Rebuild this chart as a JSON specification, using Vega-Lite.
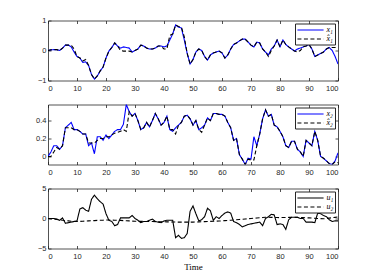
{
"$schema":"https://vega.github.io/schema/vega-lite/v6.json",
"background":"white",
"padding":{"left":18,"top":16.5,"right":4,"bottom":4},
"spacing":24,
"bounds":"flush",
"datasets":{
"p1":[
{"t":0,"a":0,"b":0},{"t":1,"a":0.02,"b":0.02},{"t":2,"a":0.03,"b":0.03},{"t":3,"a":0.03,"b":0.03},{"t":4,"a":0.0,"b":0.0},{"t":5,"a":0.08,"b":0.08},{"t":6,"a":0.18,"b":0.18},{"t":7,"a":0.18,"b":0.18},{"t":8,"a":0.12,"b":0.18},{"t":9,"a":-0.05,"b":0.05},
{"t":10,"a":-0.2,"b":-0.2},{"t":11,"a":-0.25,"b":-0.25},{"t":12,"a":-0.4,"b":-0.35},{"t":13,"a":-0.38,"b":-0.3},{"t":14,"a":-0.5,"b":-0.5},{"t":15,"a":-0.8,"b":-0.8},{"t":16,"a":-0.95,"b":-0.95},{"t":17,"a":-0.85,"b":-0.85},{"t":18,"a":-0.68,"b":-0.68},{"t":19,"a":-0.55,"b":-0.55},
{"t":20,"a":-0.25,"b":-0.25},{"t":21,"a":-0.02,"b":-0.02},{"t":22,"a":0.1,"b":0.1},{"t":23,"a":0.25,"b":0.25},{"t":24,"a":0.15,"b":0.15},{"t":25,"a":0.08,"b":0.0},{"t":26,"a":0.12,"b":-0.02},{"t":27,"a":0.1,"b":-0.02},{"t":28,"a":0.08,"b":-0.02},{"t":29,"a":-0.05,"b":-0.05},
{"t":30,"a":0.0,"b":0.0},{"t":31,"a":0.05,"b":0.05},{"t":32,"a":0.18,"b":0.18},{"t":33,"a":0.15,"b":0.15},{"t":34,"a":0.08,"b":0.08},{"t":35,"a":0.05,"b":0.05},{"t":36,"a":0.05,"b":0.05},{"t":37,"a":0.08,"b":0.08},{"t":38,"a":0.15,"b":0.15},{"t":39,"a":0.15,"b":0.15},
{"t":40,"a":0.12,"b":0.05},{"t":41,"a":0.15,"b":0.05},{"t":42,"a":0.35,"b":0.5},{"t":43,"a":0.55,"b":0.55},{"t":44,"a":0.85,"b":0.85},{"t":45,"a":0.78,"b":0.8},{"t":46,"a":0.75,"b":0.78},{"t":47,"a":0.35,"b":0.45},{"t":48,"a":-0.1,"b":-0.1},{"t":49,"a":-0.45,"b":-0.45},
{"t":50,"a":-0.3,"b":-0.3},{"t":51,"a":-0.05,"b":-0.05},{"t":52,"a":0.05,"b":0.05},{"t":53,"a":0.0,"b":0.0},{"t":54,"a":-0.2,"b":-0.2},{"t":55,"a":-0.32,"b":-0.32},{"t":56,"a":-0.15,"b":-0.15},{"t":57,"a":-0.08,"b":-0.08},{"t":58,"a":-0.05,"b":-0.05},{"t":59,"a":-0.02,"b":-0.02},
{"t":60,"a":-0.08,"b":-0.08},{"t":61,"a":-0.25,"b":-0.25},{"t":62,"a":-0.15,"b":-0.15},{"t":63,"a":0.05,"b":0.05},{"t":64,"a":0.2,"b":0.2},{"t":65,"a":0.25,"b":0.25},{"t":66,"a":0.32,"b":0.32},{"t":67,"a":0.38,"b":0.38},{"t":68,"a":0.38,"b":0.38},{"t":69,"a":0.28,"b":0.28},
{"t":70,"a":0.18,"b":0.18},{"t":71,"a":0.12,"b":0.12},{"t":72,"a":0.28,"b":0.28},{"t":73,"a":0.25,"b":0.25},{"t":74,"a":0.05,"b":0.05},{"t":75,"a":-0.05,"b":-0.05},{"t":76,"a":-0.15,"b":-0.2},{"t":77,"a":0.05,"b":0.0},{"t":78,"a":0.15,"b":0.15},{"t":79,"a":0.35,"b":0.35},
{"t":80,"a":0.12,"b":0.12},{"t":81,"a":0.35,"b":0.35},{"t":82,"a":0.2,"b":0.2},{"t":83,"a":0.12,"b":0.12},{"t":84,"a":0.05,"b":0.05},{"t":85,"a":-0.02,"b":-0.02},{"t":86,"a":0.05,"b":-0.05},{"t":87,"a":0.08,"b":0.0},{"t":88,"a":0.12,"b":0.12},{"t":89,"a":0.15,"b":0.15},
{"t":90,"a":0.2,"b":0.2},{"t":91,"a":0.05,"b":0.05},{"t":92,"a":-0.2,"b":-0.2},{"t":93,"a":-0.15,"b":-0.15},{"t":94,"a":-0.1,"b":-0.1},{"t":95,"a":-0.05,"b":-0.05},{"t":96,"a":0.05,"b":0.05},{"t":97,"a":0.1,"b":0.1},{"t":98,"a":0.0,"b":0.1},{"t":99,"a":-0.2,"b":0.1},
{"t":100,"a":-0.45,"b":0.1}
],
"p2":[
{"t":0,"a":0.0,"b":0.0},{"t":1,"a":0.05,"b":0.0},{"t":2,"a":0.12,"b":0.05},{"t":3,"a":0.12,"b":0.1},{"t":4,"a":0.08,"b":0.08},{"t":5,"a":0.12,"b":0.12},{"t":6,"a":0.32,"b":0.32},{"t":7,"a":0.35,"b":0.32},{"t":8,"a":0.38,"b":0.32},{"t":9,"a":0.3,"b":0.3},
{"t":10,"a":0.3,"b":0.3},{"t":11,"a":0.28,"b":0.28},{"t":12,"a":0.25,"b":0.25},{"t":13,"a":0.25,"b":0.25},{"t":14,"a":0.12,"b":0.15},{"t":15,"a":0.15,"b":0.15},{"t":16,"a":0.03,"b":0.15},{"t":17,"a":0.22,"b":0.18},{"t":18,"a":0.22,"b":0.2},{"t":19,"a":0.18,"b":0.2},
{"t":20,"a":0.24,"b":0.22},{"t":21,"a":0.2,"b":0.22},{"t":22,"a":0.24,"b":0.24},{"t":23,"a":0.28,"b":0.26},{"t":24,"a":0.3,"b":0.27},{"t":25,"a":0.3,"b":0.28},{"t":26,"a":0.36,"b":0.3},{"t":27,"a":0.58,"b":0.28},{"t":28,"a":0.5,"b":0.5},{"t":29,"a":0.45,"b":0.45},
{"t":30,"a":0.48,"b":0.48},{"t":31,"a":0.4,"b":0.4},{"t":32,"a":0.3,"b":0.3},{"t":33,"a":0.32,"b":0.32},{"t":34,"a":0.38,"b":0.38},{"t":35,"a":0.33,"b":0.33},{"t":36,"a":0.4,"b":0.4},{"t":37,"a":0.48,"b":0.48},{"t":38,"a":0.42,"b":0.42},{"t":39,"a":0.35,"b":0.35},
{"t":40,"a":0.38,"b":0.38},{"t":41,"a":0.45,"b":0.45},{"t":42,"a":0.3,"b":0.3},{"t":43,"a":0.28,"b":0.3},{"t":44,"a":0.32,"b":0.25},{"t":45,"a":0.35,"b":0.35},{"t":46,"a":0.38,"b":0.38},{"t":47,"a":0.45,"b":0.45},{"t":48,"a":0.46,"b":0.46},{"t":49,"a":0.42,"b":0.42},
{"t":50,"a":0.35,"b":0.35},{"t":51,"a":0.4,"b":0.4},{"t":52,"a":0.3,"b":0.3},{"t":53,"a":0.32,"b":0.27},{"t":54,"a":0.35,"b":0.35},{"t":55,"a":0.43,"b":0.43},{"t":56,"a":0.4,"b":0.4},{"t":57,"a":0.48,"b":0.48},{"t":58,"a":0.48,"b":0.48},{"t":59,"a":0.47,"b":0.47},
{"t":60,"a":0.47,"b":0.47},{"t":61,"a":0.45,"b":0.45},{"t":62,"a":0.38,"b":0.38},{"t":63,"a":0.32,"b":0.32},{"t":64,"a":0.18,"b":0.18},{"t":65,"a":0.2,"b":0.2},{"t":66,"a":0.02,"b":0.02},{"t":67,"a":-0.03,"b":-0.03},{"t":68,"a":-0.09,"b":-0.09},{"t":69,"a":-0.02,"b":-0.03},
{"t":70,"a":-0.03,"b":-0.04},{"t":71,"a":0.22,"b":-0.04},{"t":72,"a":0.12,"b":0.12},{"t":73,"a":0.25,"b":0.25},{"t":74,"a":0.42,"b":0.42},{"t":75,"a":0.52,"b":0.52},{"t":76,"a":0.45,"b":0.45},{"t":77,"a":0.47,"b":0.47},{"t":78,"a":0.35,"b":0.35},{"t":79,"a":0.33,"b":0.33},
{"t":80,"a":0.28,"b":0.28},{"t":81,"a":0.22,"b":0.22},{"t":82,"a":0.12,"b":0.12},{"t":83,"a":0.1,"b":0.1},{"t":84,"a":0.17,"b":0.17},{"t":85,"a":0.17,"b":0.17},{"t":86,"a":0.08,"b":0.08},{"t":87,"a":0.05,"b":0.05},{"t":88,"a":0.0,"b":0.0},{"t":89,"a":0.18,"b":0.18},
{"t":90,"a":0.15,"b":0.15},{"t":91,"a":0.12,"b":0.12},{"t":92,"a":0.28,"b":0.28},{"t":93,"a":0.18,"b":0.18},{"t":94,"a":0.0,"b":0.0},{"t":95,"a":-0.02,"b":-0.02},{"t":96,"a":-0.05,"b":-0.05},{"t":97,"a":-0.08,"b":-0.08},{"t":98,"a":-0.09,"b":-0.09},{"t":99,"a":-0.05,"b":-0.06},
{"t":100,"a":0.04,"b":-0.07}
],
"p3":[
{"t":0,"a":0,"b":0},{"t":1,"a":0,"b":-0.05},{"t":2,"a":0,"b":-0.1},{"t":3,"a":-0.1,"b":-0.15},{"t":4,"a":-0.3,"b":-0.2},{"t":5,"a":0.1,"b":-0.3},{"t":6,"a":-0.8,"b":-0.35},{"t":7,"a":-0.7,"b":-0.4},{"t":8,"a":-0.6,"b":-0.45},{"t":9,"a":-0.5,"b":-0.48},
{"t":10,"a":-0.4,"b":-0.5},{"t":11,"a":1.6,"b":-0.48},{"t":12,"a":1.8,"b":-0.45},{"t":13,"a":1.4,"b":-0.42},{"t":14,"a":1.2,"b":-0.4},{"t":15,"a":3.2,"b":-0.38},{"t":16,"a":3.9,"b":-0.35},{"t":17,"a":3.3,"b":-0.32},{"t":18,"a":2.8,"b":-0.3},{"t":19,"a":2.4,"b":-0.28},
{"t":20,"a":0.8,"b":-0.25},{"t":21,"a":-0.3,"b":-0.25},{"t":22,"a":-0.5,"b":-0.27},{"t":23,"a":-1.2,"b":-0.28},{"t":24,"a":-1.0,"b":-0.3},{"t":25,"a":0.1,"b":-0.32},{"t":26,"a":0.1,"b":-0.35},{"t":27,"a":0.1,"b":-0.38},{"t":28,"a":0.1,"b":-0.4},{"t":29,"a":0.5,"b":-0.43},
{"t":30,"a":0.0,"b":-0.45},{"t":31,"a":-0.3,"b":-0.47},{"t":32,"a":-0.7,"b":-0.48},{"t":33,"a":-0.5,"b":-0.49},{"t":34,"a":-0.5,"b":-0.5},{"t":35,"a":-0.3,"b":-0.5},{"t":36,"a":-0.1,"b":-0.51},{"t":37,"a":-0.5,"b":-0.52},{"t":38,"a":-0.6,"b":-0.53},{"t":39,"a":-0.7,"b":-0.54},
{"t":40,"a":-0.4,"b":-0.55},{"t":41,"a":-0.3,"b":-0.56},{"t":42,"a":-0.3,"b":-0.57},{"t":43,"a":-0.3,"b":-0.58},{"t":44,"a":-3.2,"b":-0.59},{"t":45,"a":-2.8,"b":-0.6},{"t":46,"a":-3.3,"b":-0.6},{"t":47,"a":-3.2,"b":-0.6},{"t":48,"a":-2.5,"b":-0.6},{"t":49,"a":1.2,"b":-0.6},
{"t":50,"a":2.1,"b":-0.6},{"t":51,"a":0.8,"b":-0.58},{"t":52,"a":-0.4,"b":-0.56},{"t":53,"a":-0.2,"b":-0.54},{"t":54,"a":0.3,"b":-0.52},{"t":55,"a":1.7,"b":-0.5},{"t":56,"a":1.3,"b":-0.48},{"t":57,"a":-0.3,"b":-0.46},{"t":58,"a":0.3,"b":-0.44},{"t":59,"a":0.0,"b":-0.42},
{"t":60,"a":0.5,"b":-0.4},{"t":61,"a":0.9,"b":-0.36},{"t":62,"a":1.1,"b":-0.32},{"t":63,"a":0.9,"b":-0.28},{"t":64,"a":-0.5,"b":-0.24},{"t":65,"a":-0.7,"b":-0.2},{"t":66,"a":-1.0,"b":-0.16},{"t":67,"a":-1.4,"b":-0.12},{"t":68,"a":-1.2,"b":-0.08},{"t":69,"a":-1.0,"b":-0.04},
{"t":70,"a":-0.9,"b":0.0},{"t":71,"a":-0.8,"b":0.04},{"t":72,"a":-0.7,"b":0.08},{"t":73,"a":-0.6,"b":0.12},{"t":74,"a":-1.2,"b":0.16},{"t":75,"a":0.0,"b":0.2},{"t":76,"a":0.3,"b":0.2},{"t":77,"a":0.7,"b":0.19},{"t":78,"a":0.6,"b":0.18},{"t":79,"a":-1.0,"b":0.16},
{"t":80,"a":-0.9,"b":0.15},{"t":81,"a":-1.0,"b":0.16},{"t":82,"a":-1.8,"b":0.17},{"t":83,"a":-0.2,"b":0.18},{"t":84,"a":0.2,"b":0.19},{"t":85,"a":0.2,"b":0.2},{"t":86,"a":0.2,"b":0.18},{"t":87,"a":0.0,"b":0.16},{"t":88,"a":0.0,"b":0.14},{"t":89,"a":-0.6,"b":0.12},
{"t":90,"a":-0.6,"b":0.1},{"t":91,"a":-0.6,"b":0.07},{"t":92,"a":-0.7,"b":0.04},{"t":93,"a":0.9,"b":0.01},{"t":94,"a":0.8,"b":-0.02},{"t":95,"a":0.5,"b":-0.05},{"t":96,"a":0.3,"b":0.01},{"t":97,"a":-0.2,"b":0.07},{"t":98,"a":-0.5,"b":0.13},{"t":99,"a":-0.4,"b":0.19},
{"t":100,"a":-0.4,"b":0.25}
]
},
"vconcat":[
{
"width":290,"height":60,
"data":{"name":"p1"},
"layer":[
{"transform":[{"fold":["a","b"],"as":["key","v"]}],
"mark":{"type":"line","strokeWidth":1.1,"clip":true},
"encoding":{
"x":{"field":"t","type":"quantitative","scale":{"domain":[0,100],"nice":false,"zero":false},"axis":{"orient":"bottom","values":[0,10,20,30,40,50,60,70,80,90,100],"title":null,"minExtent":12,"maxExtent":12,"labelPadding":6.5}},
"y":{"field":"v","type":"quantitative","scale":{"domain":[-1,1],"nice":false,"zero":false},"axis":{"orient":"left","values":[-1,0,1],"format":"~g","title":null,"minExtent":30,"maxExtent":30,"labelPadding":5}},
"color":{"field":"key","type":"nominal","scale":{"domain":["a","b"],"range":["#0000ff","#000000"]},"legend":{"title":null,"labelExpr":"datum.value == 'a' ? 'x\u2081' : 'x\u0302\u2081'"}},
"strokeDash":{"field":"key","type":"nominal","scale":{"domain":["a","b"],"range":[[1,0],[4,2.5]]},"legend":{"title":null,"labelExpr":"datum.value == 'a' ? 'x\u2081' : 'x\u0302\u2081'"}}
}},
{"mark":{"type":"line","opacity":0},
"encoding":{
"x":{"field":"t","type":"quantitative","scale":{"domain":[0,100],"nice":false,"zero":false},"axis":{"orient":"top","values":[0,10,20,30,40,50,60,70,80,90,100],"labels":false,"title":null,"minExtent":0,"maxExtent":0}},
"y":{"field":"a","type":"quantitative","scale":{"domain":[-1,1],"nice":false,"zero":false},"axis":{"orient":"right","values":[-1,0,1],"labels":false,"title":null,"minExtent":0,"maxExtent":0}}
}}
],
"resolve":{"axis":{"x":"independent","y":"independent"}}
},
{
"width":290,"height":60,
"data":{"name":"p2"},
"layer":[
{"transform":[{"fold":["a","b"],"as":["key","v"]}],
"mark":{"type":"line","strokeWidth":1.1,"clip":true},
"encoding":{
"x":{"field":"t","type":"quantitative","scale":{"domain":[0,100],"nice":false,"zero":false},"axis":{"orient":"bottom","values":[0,10,20,30,40,50,60,70,80,90,100],"title":null,"minExtent":12,"maxExtent":12,"labelPadding":6.5}},
"y":{"field":"v","type":"quantitative","scale":{"domain":[-0.09,0.58],"nice":false,"zero":false},"axis":{"orient":"left","values":[0,0.2,0.4],"format":"~g","title":null,"minExtent":30,"maxExtent":30,"labelPadding":5}},
"color":{"field":"key","type":"nominal","scale":{"domain":["a","b"],"range":["#0000ff","#000000"]},"legend":{"title":null,"labelExpr":"datum.value == 'a' ? 'x\u2082' : 'x\u0302\u2082'"}},
"strokeDash":{"field":"key","type":"nominal","scale":{"domain":["a","b"],"range":[[1,0],[4,2.5]]},"legend":{"title":null,"labelExpr":"datum.value == 'a' ? 'x\u2082' : 'x\u0302\u2082'"}}
}},
{"mark":{"type":"line","opacity":0},
"encoding":{
"x":{"field":"t","type":"quantitative","scale":{"domain":[0,100],"nice":false,"zero":false},"axis":{"orient":"top","values":[0,10,20,30,40,50,60,70,80,90,100],"labels":false,"title":null,"minExtent":0,"maxExtent":0}},
"y":{"field":"a","type":"quantitative","scale":{"domain":[-0.09,0.58],"nice":false,"zero":false},"axis":{"orient":"right","values":[0,0.2,0.4],"labels":false,"title":null,"minExtent":0,"maxExtent":0}}
}}
],
"resolve":{"axis":{"x":"independent","y":"independent"}}
},
{
"width":290,"height":60,
"data":{"name":"p3"},
"layer":[
{"transform":[{"fold":["a","b"],"as":["key","v"]}],
"mark":{"type":"line","strokeWidth":1.1,"clip":true},
"encoding":{
"x":{"field":"t","type":"quantitative","scale":{"domain":[0,100],"nice":false,"zero":false},"axis":{"orient":"bottom","values":[0,10,20,30,40,50,60,70,80,90,100],"title":"Time","titlePadding":2,"minExtent":12,"maxExtent":12,"labelPadding":6.5}},
"y":{"field":"v","type":"quantitative","scale":{"domain":[-5,5],"nice":false,"zero":false},"axis":{"orient":"left","values":[-5,0,5],"format":"~g","title":null,"minExtent":30,"maxExtent":30,"labelPadding":5}},
"color":{"field":"key","type":"nominal","scale":{"domain":["a","b"],"range":["#000000","#000000"]},"legend":{"title":null,"labelExpr":"datum.value == 'a' ? 'u\u2081' : 'u\u2082'"}},
"strokeDash":{"field":"key","type":"nominal","scale":{"domain":["a","b"],"range":[[1,0],[4,2.5]]},"legend":{"title":null,"labelExpr":"datum.value == 'a' ? 'u\u2081' : 'u\u2082'"}}
}},
{"mark":{"type":"line","opacity":0},
"encoding":{
"x":{"field":"t","type":"quantitative","scale":{"domain":[0,100],"nice":false,"zero":false},"axis":{"orient":"top","values":[0,10,20,30,40,50,60,70,80,90,100],"labels":false,"title":null,"minExtent":0,"maxExtent":0}},
"y":{"field":"a","type":"quantitative","scale":{"domain":[-5,5],"nice":false,"zero":false},"axis":{"orient":"right","values":[-5,0,5],"labels":false,"title":null,"minExtent":0,"maxExtent":0}}
}}
],
"resolve":{"axis":{"x":"independent","y":"independent"}}
}
],
"resolve":{"scale":{"color":"independent","strokeDash":"independent"}},
"config":{
"font":"Liberation Sans",
"view":{"stroke":null},
"axis":{"domainColor":"#262626","domainWidth":0.8,"tickColor":"#262626","tickWidth":0.8,"tickSize":-3,"labelColor":"#262626","labelFont":"Liberation Sans","labelFontSize":7.5,"grid":false,"titleFont":"Liberation Serif","titleFontSize":9,"titleFontWeight":"normal","titleColor":"#000000"},
"legend":{"orient":"top-right","offset":3,"strokeColor":"#262626","fillColor":"white","padding":1.5,"symbolType":"M-3,0H3","symbolSize":76,"symbolOffset":9,"symbolStrokeWidth":1.1,"labelFont":"Liberation Serif","labelFontStyle":"italic","labelFontSize":8,"labelColor":"#000000","labelOffset":11,"rowPadding":0,"cornerRadius":0}
}
}
